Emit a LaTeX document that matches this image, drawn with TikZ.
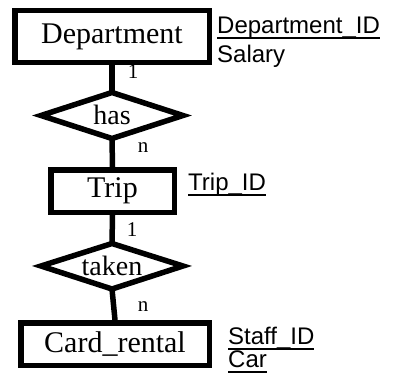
\documentclass[tikz,border=0pt]{standalone}
\usepackage{fontspec}
\setmainfont{Liberation Serif}
\newfontfamily\attrfont{Liberation Sans}
\newcommand\attrul[1]{\setbox0\hbox{#1}\rlap{\rule[-5.5pt]{\wd0}{1.8pt}}\box0}
\tikzset{
  x=1pt, y=-1pt,
  entity/.style={draw, line width=5.5pt, inner sep=0pt, font=\fontsize{30}{34}\selectfont},
  reltext/.style={anchor=base, inner sep=0pt, font=\fontsize{28}{32}\selectfont},
  relshape/.style={line width=5.5pt, line join=miter},
  conn/.style={line width=5.5pt},
  card/.style={inner sep=0pt, font=\fontsize{21}{24}\selectfont},
  attr/.style={anchor=base west, inner sep=0pt, font=\attrfont\fontsize{24}{28}\selectfont}
}
\begin{document}
\begin{tikzpicture}
\useasboundingbox (0,0) rectangle (403,383);
\node[entity, minimum width=194.5pt, minimum height=52pt] (dept) at (112,36.5) {Department};
\node[entity, minimum width=123.5pt, minimum height=42.5pt] (trip) at (112.5,191) {Trip};
\node[entity, minimum width=188.5pt, minimum height=42.5pt] (cr) at (115,344) {Card\_rental};

% relationship "has"
\node[reltext] (has) at (112,124) {has};
\coordinate (hasN) at (112,92.5);
\coordinate (hasS) at (112,138.5);
\coordinate (hasW) at (41,115.5);
\coordinate (hasE) at (183,115.5);
\draw[relshape] (hasN) -- (hasE) -- (hasS) -- (hasW) -- cycle;

% relationship "taken"
\node[reltext] (taken) at (112,275) {taken};
\coordinate (takenN) at (112,243.5);
\coordinate (takenS) at (112,289);
\coordinate (takenW) at (41,266);
\coordinate (takenE) at (183,266);
\draw[relshape] (takenN) -- (takenE) -- (takenS) -- (takenW) -- cycle;

\draw[conn] (dept.south) -- (hasN);
\draw[conn] (hasS) -- (trip.north);
\draw[conn] (trip.south) -- (takenN);
\draw[conn] (takenS) -- (cr.north);

\node[card] (c1) at (133,72) {1};
\node[card] (c2) at (143,148) {n};
\node[card] (c3) at (132,230) {1};
\node[card] (c4) at (143,307) {n};

\node[attr] (a1) at (217,33.5) {\attrul{Department\_ID}};
\node[attr] (a2) at (217,62.5) {Salary};
\node[attr] (a3) at (188,190.5) {\attrul{Trip\_ID}};
\node[attr] (a4) at (228,344) {\attrul{Staff\_ID}};
\node[attr] (a5) at (228,367) {\attrul{Car}};
\end{tikzpicture}
\end{document}
